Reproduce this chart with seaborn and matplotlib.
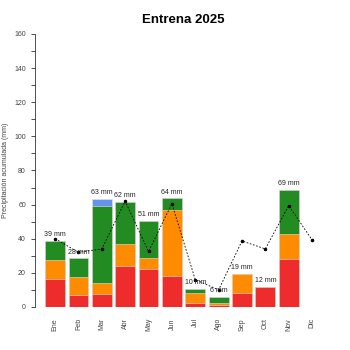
import numpy as np
import pandas as pd
import seaborn as sns
import matplotlib.pyplot as plt

months = ["Ene", "Feb", "Mar", "Abr", "May", "Jun", "Jul", "Ago", "Sep", "Oct", "Nov", "Dic"]
red = [16.4, 7.0, 7.6, 24.0, 22.0, 18.2, 2.5, 1.2, 8.2, 11.6, 28.1, 0]
orange = [11.1, 10.6, 6.3, 12.7, 6.7, 38.8, 5.7, 1.3, 11.1, 0.3, 14.5, 0]
green = [11.2, 10.9, 45.5, 24.8, 21.9, 6.7, 2.5, 3.6, 0, 0, 26.2, 0]
blue = [0, 0, 3.9, 0, 0, 0, 0, 0, 0, 0, 0, 0]
total_labels = ["39 mm", "28 mm", "63 mm", "62 mm", "51 mm", "64 mm", "10 mm", "6 mm", "19 mm", "12 mm", "69 mm", ""]
mean_line = [40, 32, 34, 62, 32.5, 60.5, 16, 10, 38.7, 34, 59.4, 39.3]

sns.set_style("white")
plt.rcParams['font.family'] = ['Liberation Sans', 'DejaVu Sans']

df = pd.DataFrame({"month": months, "red": red, "orange": orange, "green": green, "blue": blue})
df["c_red"] = df["red"]
df["c_orange"] = df["c_red"] + df["orange"]
df["c_green"] = df["c_orange"] + df["green"]
df["c_blue"] = df["c_green"] + df["blue"]

fig = plt.figure(figsize=(3.5, 3.5), dpi=100)
ax = fig.add_axes([0.1, 0.123, 0.849, 0.78])

# stacked bars: draw cumulative totals from tallest to shortest
layers = [("c_blue", "#6495ED"), ("c_green", "#228B22"), ("c_orange", "#FF8C00"), ("c_red", "#EE2C2C")]
for col, color in layers:
    sns.barplot(data=df, x="month", y=col, color=color, width=0.85, saturation=1,
                edgecolor="#f0e0e0", linewidth=0.4, ax=ax)

sns.lineplot(x=np.arange(len(months)), y=mean_line, color="black", lw=0.6,
             linestyle=(0, (2, 2)), marker="o", markersize=1.8,
             markeredgecolor="black", markerfacecolor="black", ax=ax)

for i, lab in enumerate(total_labels):
    if lab:
        ax.text(i, df["c_blue"][i] + 1.5, lab, ha="center", va="bottom", fontsize=5, color="#222222")

ax.set_xlim(-0.86, 11.86)
ax.set_ylim(0, 160)
ax.set_yticks(range(0, 161, 10))
ax.set_yticklabels([str(v) if v % 20 == 0 else "" for v in range(0, 161, 10)], fontsize=5, color="#444444")
ax.set_xticks(range(len(months)))
ax.set_xticklabels(months, rotation=90, fontsize=5, color="#444444")
ax.tick_params(axis="x", length=0, pad=8)
ax.tick_params(axis="y", length=3, width=0.6, color="#333333", direction="out", left=True)
ax.set_xlabel("")
ax.set_ylabel("Precipitación acumulada (mm)", fontsize=5, color="#444444")
for s in ["top", "right", "bottom"]:
    ax.spines[s].set_visible(False)
ax.spines["left"].set_linewidth(0.6)
ax.spines["left"].set_color("#333333")
ax.set_title("Entrena 2025", fontsize=9.5, fontweight="bold", pad=8, color="black")

fig.savefig("out.png", dpi=100)
